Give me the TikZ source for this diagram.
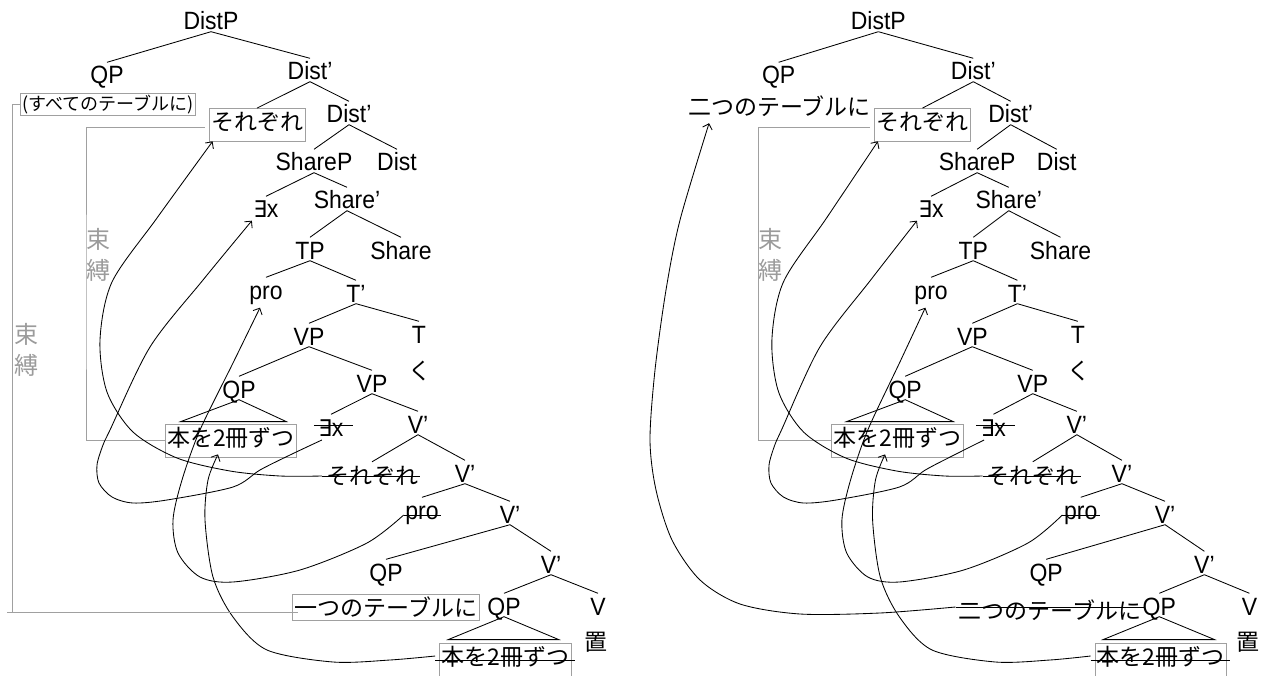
\documentclass[tikz,border=0pt]{standalone}
\usepackage{fontspec}
\setmainfont{Liberation Sans}[FakeStretch=0.92]
\newfontfamily\jpfont{Noto Sans CJK JP}
\newfontfamily\dvfont{DejaVu Sans}[FakeStretch=0.92]
\usetikzlibrary{calc,arrows.meta}
\definecolor{boxgrey}{RGB}{160,160,160}
\definecolor{bindgrey}{RGB}{155,155,155}
\tikzset{
 lab/.style={font=\fontsize{25}{27}\selectfont, anchor=base, inner sep=1.5pt, text height=20pt, text depth=0pt},
 jp/.style={font=\jpfont\fontsize{23}{25}\selectfont, anchor=base, inner sep=2pt, text height=20pt, text depth=3pt},
 jpsmall/.style={font=\jpfont\fontsize{18}{20}\selectfont, anchor=base, inner sep=2pt, text height=16pt, text depth=2pt},
 bx/.style={draw=boxgrey, line width=0.8pt},
 brk/.style={draw=boxgrey, line width=0.8pt},
 bind/.style={font=\jpfont\fontsize{24}{31}\selectfont, text=bindgrey, align=center, inner sep=0pt},
 br/.style={line width=0.85pt},
 mv/.style={line width=0.85pt, -{Straight Barb[length=5pt,width=10pt]}},
 strk/.style={line width=0.85pt}
}
\newcommand\branch[3]{\draw[br] (#1.south) -- (#2.north); \draw[br] (#1.south) -- (#3.north);}
\newcommand\exx{{\dvfont\fontsize{23}{25}\selectfont ∃}x}
\newcommand\drawtree[1]{%
\node[lab] (#1distp) at (211,30) {DistP};
\node[lab] (#1qp) at (107,84) {QP};
\node[lab] (#1dista) at (310,80) {Dist’};
\node[jp,bx,text depth=8.5pt] (#1soreU) at (257,130.5) {それぞれ};
\node[lab] (#1distb) at (349,123) {Dist’};
\node[lab] (#1sharep) at (314,171) {ShareP};
\node[lab] (#1dist) at (397,171) {Dist};
\node[lab] (#1ex) at (266,218) {\exx};
\node[lab] (#1sharea) at (347,209) {Share’};
\node[lab] (#1tp) at (310,259) {TP};
\node[lab] (#1share) at (401,259) {Share};
\node[lab] (#1pro) at (266,299) {pro};
\node[lab] (#1ta) at (356,302) {T’};
\node[lab] (#1vpa) at (309,345) {VP};
\node[lab] (#1t) at (419,343) {T};
\node[jp] (#1ku) at (420,379) {く};
\node[lab] (#1qpa) at (239,398) {QP};
\node[lab] (#1vpb) at (372,392) {VP};
\node[jp,bx,text depth=9pt] (#1honU) at (231,446) {本を2冊ずつ};
\node[lab] (#1exS) at (331,436) {\exx};
\node[lab] (#1va) at (418,433) {V’};
\node[jp] (#1soreS) at (372,484) {それぞれ};
\node[lab] (#1vb) at (465,482) {V’};
\node[lab] (#1proS) at (422,519) {pro};
\node[lab] (#1vc) at (510,523) {V’};
\node[lab] (#1qpb) at (386,581) {QP};
\node[lab] (#1vd) at (551,573) {V’};
\node[lab] (#1qpc) at (504,615) {QP};
\node[lab] (#1v) at (598,615) {V};
\node[jp] (#1oku) at (596,650) {置};
\node[jp,bx,text depth=10pt] (#1honL) at (505.5,665) {本を2冊ずつ};
\node[bind] (#1bind) at (98.5,255) {束\\縛};
\branch{#1distp}{#1qp}{#1dista}
\branch{#1dista}{#1soreU}{#1distb}
\branch{#1distb}{#1sharep}{#1dist}
\branch{#1sharep}{#1ex}{#1sharea}
\branch{#1sharea}{#1tp}{#1share}
\branch{#1tp}{#1pro}{#1ta}
\branch{#1ta}{#1vpa}{#1t}
\branch{#1vpa}{#1qpa}{#1vpb}
\branch{#1vpb}{#1exS}{#1va}
\branch{#1va}{#1soreS}{#1vb}
\branch{#1vb}{#1proS}{#1vc}
\branch{#1vc}{#1qpb}{#1vd}
\branch{#1vd}{#1qpc}{#1v}
\draw[br] (#1qpa.south) -- ($(#1honU.north west)+(16,-2)$) -- ($(#1honU.north east)+(-11,-2)$) -- cycle;
\draw[br] (#1qpc.south) -- ($(#1honL.north west)+(9,-3)$) -- ($(#1honL.north east)+(-13,-3)$) -- cycle;
\draw[strk] ($(#1exS.base west)+(-3,-11)$) -- ($(#1exS.base east)+(8,-11)$);
\draw[strk] ($(#1soreS.base west)+(-2,-8)$) -- ($(#1soreS.base east)+(0,-8)$);
\draw[strk] ($(#1proS.base west)+(0,-4)$) -- ($(#1proS.base east)+(1,-4)$);
\draw[strk] ($(#1honL.base west)+(-4,-5)$) -- ($(#1honL.base east)+(3,-5)$);
\coordinate (#1ib) at (86,300);
\draw[brk] ($(#1soreU.west)+(-4,3)$) -| (#1ib) |- (#1honU.west);
\coordinate (#1a0) at ($(#1soreS.base west)+(-2,-8)$);
\coordinate (#1a9) at ($(#1soreU.south west)+(4,0)$);
\draw[mv] plot[smooth] coordinates {(#1a0) (280,476) (230,471) (177,458) (133,432) (107,392) (100,340) (112,282) (157,218) (#1a9)};
\coordinate (#1b0) at ($(#1exS.base west)+(5,4)$);
\coordinate (#1b9) at ($(#1ex.south west)+(0,1)$);
\draw[mv] plot[smooth] coordinates {(#1b0) (290,455) (260,470) (233,487) (167,500) (133,503) (112,497) (99,483) (97,465) (103,445) (110,430) (150,347) (203,280) (#1b9)};
\coordinate (#1c0) at ($(#1proS.base west)+(0,-4)$);
\coordinate (#1c9) at ($(#1pro.south)+(-6,7)$);
\draw[mv] plot[smooth] coordinates {(#1c0) (367,543) (300,570) (233,582) (200,577) (178,553) (173,520) (182,480) (200,430) (233,363) (#1c9)};
\coordinate (#1d0) at ($(#1honL.base west)+(-4,-9)$);
\coordinate (#1d9) at ($(#1honU.south)+(-13,-3)$);
\draw[mv] plot[smooth] coordinates {(#1d0) (390,660) (333,662) (267,650) (233,617) (213,577) (205,520) (208,480) (#1d9)};
}
\begin{document}
\begin{tikzpicture}[x=1pt,y=-1pt]
\useasboundingbox (0,0) rectangle (1268,676);
\drawtree{L}
\node[jpsmall,bx] (Lsube) at (108,111) {(すべてのテーブルに)};
\node[jp,bx,text depth=2pt] (Lhito) at (386,616) {一つのテーブルに};
\coordinate (Lob) at (12,612);
\draw[brk] (Lsube.west) -| (Lob);
\draw[brk] (7,612) -- ($(Lhito.west |- Lob)+(6,0)$);
\node[bind] (Lbindo) at (26,350) {束\\縛};
\begin{scope}[shift={(676,0)}, xscale=0.959]
\drawtree{R}
\node[jp] (Rnitsu) at (108,116) {二つのテーブルに};
\node[jp] (RnitsuS) at (390,619) {二つのテーブルに};
\draw[strk] ($(RnitsuS.base west)+(-1,-12)$) -- ($(RnitsuS.base east)+(2,-12)$);
\end{scope}
\coordinate (Re0) at ($(RnitsuS.base west)+(-1,-12)$);
\coordinate (Re9) at ($(Rnitsu.south west)+(23,2)$);
\draw[mv] plot[smooth] coordinates {(Re0) (880,613) (800,614) (740,604) (700,580) (672,540) (656,490) (650,440) (655,370) (666,290) (680,220) (Re9)};
\end{tikzpicture}
\end{document}
